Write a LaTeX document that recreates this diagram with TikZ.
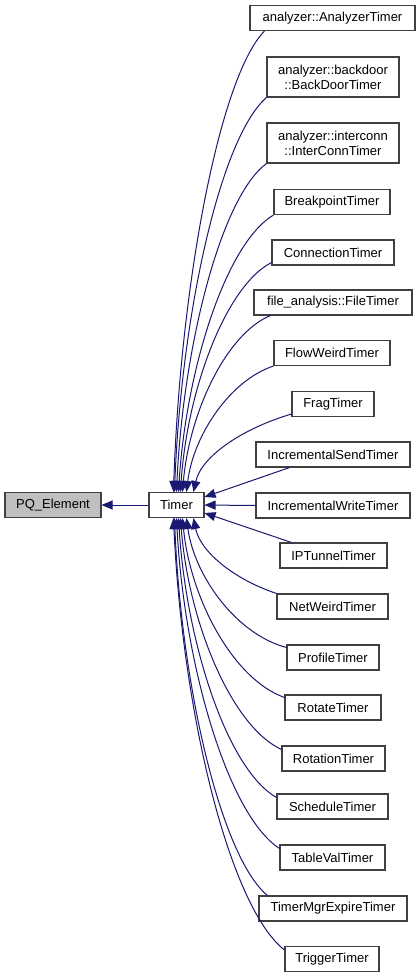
\documentclass[tikz,border=0pt]{standalone}
\usepackage{fontspec}
\setmainfont{Liberation Sans}
\usetikzlibrary{arrows.meta,calc}
\definecolor{edgeblue}{HTML}{191970}
\definecolor{boxline}{HTML}{404040}
\definecolor{boxfill}{HTML}{BFBFBF}
\begin{document}
\begin{tikzpicture}[x=1pt,y=-1pt,
  cls/.style={draw=boxline, line width=1.1pt, fill=white, inner sep=0pt,
    minimum height=25pt, align=center, font=\fontsize{13}{15}\selectfont},
  two/.style={minimum height=40pt},
  edge/.style={draw=edgeblue, line width=1pt, -{Triangle[length=11pt,width=9pt]}}]
\fill[white] (0,0) rectangle (420,980);
\useasboundingbox (0,0) rectangle (420,980);
% nodes
\node[cls, fill=boxfill, minimum width=96pt] (pq) at (53,505) {PQ\_Element};
\node[cls, minimum width=55pt] (t) at (176.5,505) {Timer};
\node[cls, minimum width=165pt] (c1) at (332.5,18) {analyzer::AnalyzerTimer};
\node[cls, two, minimum width=132pt] (c2) at (333,77) {analyzer::backdoor\\::BackDoorTimer};
\node[cls, two, minimum width=132pt] (c3) at (333,143) {analyzer::interconn\\::InterConnTimer};
\node[cls, minimum width=116pt] (c4) at (332,202) {BreakpointTimer};
\node[cls, minimum width=122pt] (c5) at (333,252.5) {ConnectionTimer};
\node[cls, minimum width=158pt] (c6) at (333,302.5) {file\_analysis::FileTimer};
\node[cls, minimum width=116pt] (c7) at (332,353) {FlowWeirdTimer};
\node[cls, minimum width=82pt] (c8) at (333,404) {FragTimer};
\node[cls, minimum width=154pt] (c9) at (333,454.5) {IncrementalSendTimer};
\node[cls, minimum width=154pt] (c10) at (333,505.5) {IncrementalWriteTimer};
\node[cls, minimum width=107pt] (c11) at (333.5,555.5) {IPTunnelTimer};
\node[cls, minimum width=111pt] (c12) at (332.5,606.5) {NetWeirdTimer};
\node[cls, minimum width=92pt] (c13) at (333,657.5) {ProfileTimer};
\node[cls, minimum width=96pt] (c14) at (333,707.5) {RotateTimer};
\node[cls, minimum width=103pt] (c15) at (333.5,758.5) {RotationTimer};
\node[cls, minimum width=111pt] (c16) at (332.5,806.5) {ScheduleTimer};
\node[cls, minimum width=105pt] (c17) at (332.5,857.5) {TableValTimer};
\node[cls, minimum width=148pt] (c18) at (333,908.5) {TimerMgrExpireTimer};
\node[cls, minimum width=94pt] (c19) at (332,959) {TriggerTimer};
% edges
\draw[edge] (t.west) -- (pq.east);
\draw[edge] ($(c1.south west)+(15,0)$) .. controls +(-45,46) and +(7,-207) .. ($(t.north west)+(25,0)$);
\draw[edge] (c2.south west) .. controls +(-46,40) and +(7,-178) .. ($(t.north west)+(26,0)$);
\draw[edge] (c3.south west) .. controls +(-45,33) and +(7,-148) .. ($(t.north west)+(28,0)$);
\draw[edge] (c4.south west) .. controls +(-47,28) and +(8,-125) .. ($(t.north west)+(30,0)$);
\draw[edge] ($(c5.south west)+(0,-3)$) .. controls +(-45,23) and +(7,-104) .. ($(t.north west)+(32,0)$);
\draw[edge] ($(c6.south west)+(17,0)$) .. controls +(-44,18) and +(7,-80) .. ($(t.north west)+(34,0)$);
\draw[edge] (c7.south west) .. controls +(-43,14) and +(7,-57) .. ($(t.north west)+(38,0)$);
\draw[edge] ($(c8.south west)+(0,-3)$) .. controls +(-48,14) and +(8,-36) .. ($(t.north west)+(45,0)$);
\draw[edge] ($(c9.south west)+(34,0)$) -- ($(t.east)+(0,-8)$);
\draw[edge] (c10.west) -- (t.east);
\draw[edge] ($(c11.north west)+(12,0)$) -- ($(t.east)+(0,8)$);
\draw[edge] (c12.north west) .. controls +(-42,-14) and +(7,34) .. ($(t.south west)+(45,0)$);
\draw[edge] ($(c13.north west)+(0,3)$) .. controls +(-50,-13) and +(8,58) .. ($(t.south west)+(38,0)$);
\draw[edge] ($(c14.north west)+(0,3)$) .. controls +(-51,-18) and +(8,81) .. ($(t.south west)+(34,0)$);
\draw[edge] ($(c15.north west)+(0,4)$) .. controls +(-50,-23) and +(8,104) .. ($(t.south west)+(32,0)$);
\draw[edge] ($(c16.north west)+(0,4)$) .. controls +(-49,-28) and +(8,126) .. ($(t.south west)+(30,0)$);
\draw[edge] ($(c17.north west)+(0,4)$) .. controls +(-51,-33) and +(8,149) .. ($(t.south west)+(28,0)$);
\draw[edge] ($(c18.north west)+(9,0)$) .. controls +(-46,-38) and +(7,170) .. ($(t.south west)+(26,0)$);
\draw[edge] ($(c19.north west)+(0,4)$) .. controls +(-55,-43) and +(9,195) .. ($(t.south west)+(25,0)$);
\end{tikzpicture}
\end{document}
